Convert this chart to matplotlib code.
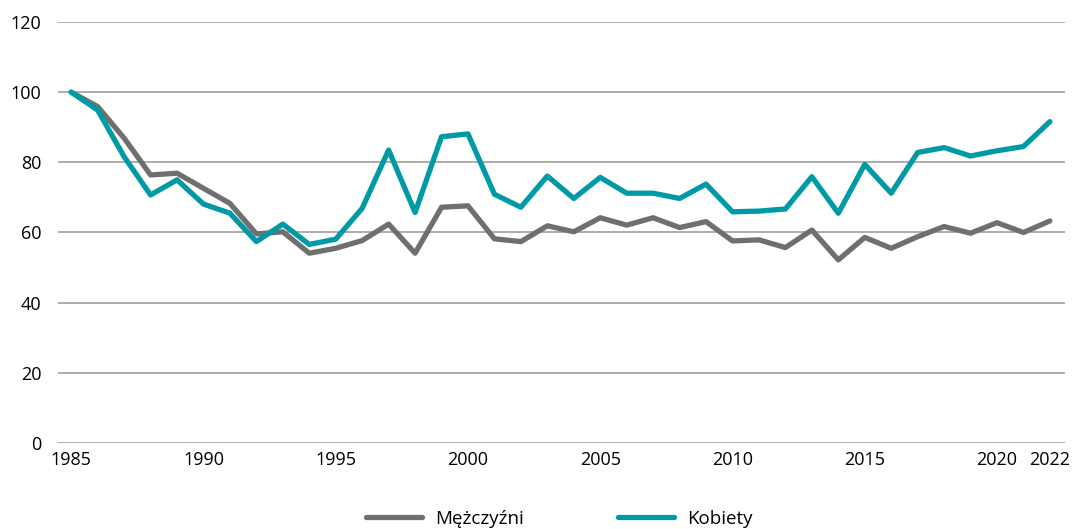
import matplotlib.pyplot as plt

years = list(range(1985, 2023))

mezczyzni = [100, 95.9, 86.9, 76.4, 76.9, 72.6, 68.3, 59.6, 60.2, 54.1,
             55.5, 57.7, 62.4, 54.1, 67.2, 67.6, 58.2, 57.4, 61.9, 60.2,
             64.2, 62.1, 64.2, 61.4, 63.1, 57.6, 57.9, 55.7, 60.7, 52.2,
             58.6, 55.5, 58.8, 61.7, 59.8, 62.8, 60.0, 63.3]

kobiety = [100, 94.9, 81.6, 70.7, 75.0, 68.1, 65.5, 57.4, 62.4, 56.6,
           58.1, 66.9, 83.5, 65.7, 87.3, 88.1, 70.9, 67.2, 76.1, 69.7,
           75.7, 71.2, 71.2, 69.7, 73.8, 65.9, 66.1, 66.7, 75.9, 65.5,
           79.4, 71.2, 82.8, 84.2, 81.8, 83.3, 84.5, 91.6]

xticks = [1985, 1990, 1995, 2000, 2005, 2010, 2015, 2020, 2022]
yticks = [0, 20, 40, 60, 80, 100, 120]

plt.rcParams["font.family"] = ["Open Sans", "DejaVu Sans"]

fig = plt.figure(figsize=(10.74, 5.29), dpi=100)
ax = fig.add_axes([0.054, 0.1626, 0.9376, 0.7958])

ax.plot(years, mezczyzni, color="#6f6f6f", linewidth=3.8, label="Mężczyźni",
        solid_capstyle="round", solid_joinstyle="round", zorder=3)
ax.plot(years, kobiety, color="#009aa6", linewidth=3.8, label="Kobiety",
        solid_capstyle="round", solid_joinstyle="round", zorder=3)

ax.set_xlim(1984.5, 2022.57)
ax.set_ylim(0, 120)
ax.set_xticks(xticks)
ax.set_yticks(yticks)
ax.tick_params(axis="both", length=0, labelsize=13)
ax.tick_params(axis="x", pad=6)
ax.tick_params(axis="y", pad=12)
ax.yaxis.grid(True, color="#a6a6a6", linewidth=1.3)
ax.set_axisbelow(True)
for spine in ax.spines.values():
    spine.set_visible(False)

# legend sits under the middle of the plot area, not the figure
fig.legend(loc="lower center", bbox_to_anchor=(0.5205, -0.03), ncol=2,
           frameon=False, fontsize=13.5, handlelength=3.0, columnspacing=5.0,
           handletextpad=0.7)

fig.savefig("out.png", dpi=100)
